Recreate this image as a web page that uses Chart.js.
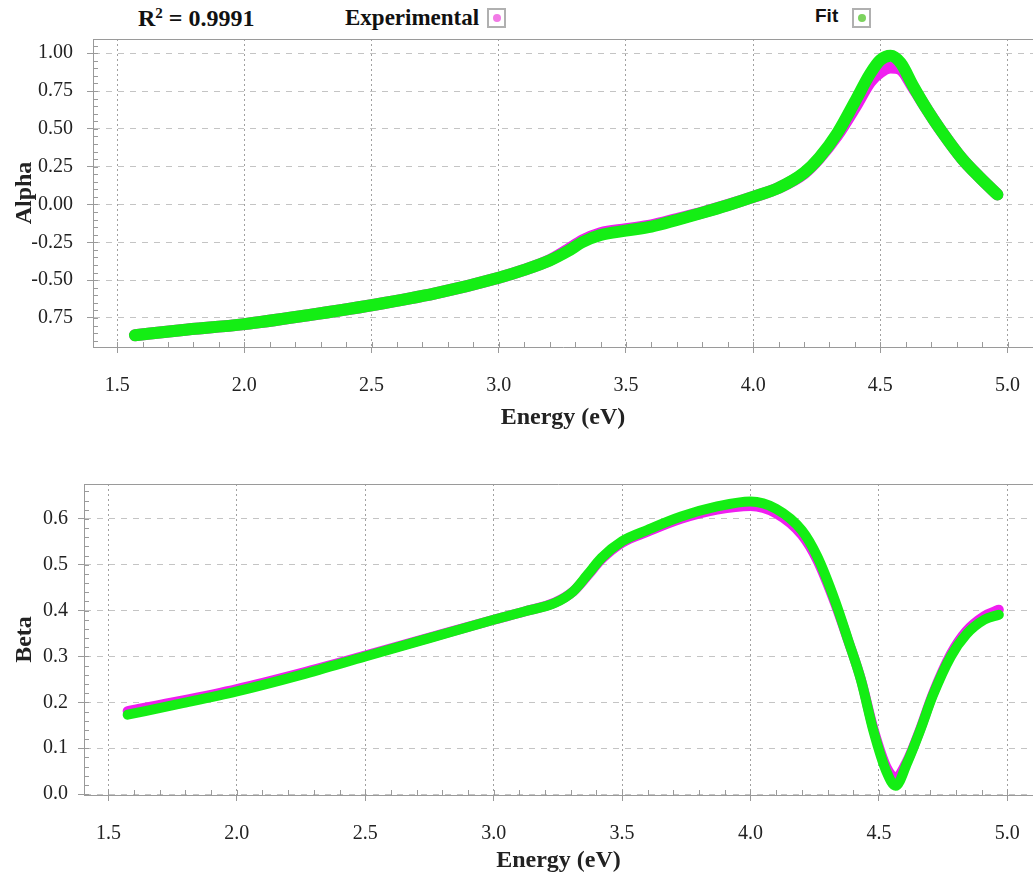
<!DOCTYPE html>
<html>
<head>
<meta charset="utf-8">
<title>Alpha / Beta fit</title>
<script src="https://cdn.jsdelivr.net/npm/chart.js@4.4.1/dist/chart.umd.min.js"></script>
<style>
  body { margin: 0; background: #fff; width: 1033px; height: 879px; overflow: hidden; position: relative; }
  canvas { position: absolute; left: 0; }
  #alphaChart { top: 0; }
  #betaChart { top: 440px; }
  .hdr { position: absolute; top: 5px; line-height: 26px; font: bold 23px 'Liberation Serif', serif; color: #111; white-space: nowrap; }
  .hdr sup { font-size: 15px; line-height: 0; vertical-align: 8px; }
  .r2 { font-size: 24px; }
  .fit { font-family: 'Liberation Sans', sans-serif; font-size: 19px; }
  .box { position: absolute; top: 8px; width: 19px; height: 20px; border: 2px solid #b0b0b0; box-sizing: border-box; background: #fff; }
  .box span { position: absolute; left: 4px; top: 4px; width: 8px; height: 8px; border-radius: 50%; }
</style>
</head>
<body>
<div class="hdr r2" style="left:138px">R<sup>2</sup> = 0.9991</div>
<div class="hdr" style="left:345px">Experimental</div>
<div class="box" style="left:487px"><span style="background:#f27ae6"></span></div>
<div class="hdr fit" style="left:815px">Fit</div>
<div class="box" style="left:852px"><span style="background:#7cd35e"></span></div>

<canvas id="alphaChart" width="1033" height="440"></canvas>
<canvas id="betaChart" width="1033" height="439"></canvas>

<script>
'use strict';

// values
const alphaEnergy = [1.57, 1.75, 2.0, 2.25, 2.5, 2.75, 3.0, 3.1, 3.2, 3.27, 3.33, 3.4, 3.5, 3.6, 3.7, 3.8, 3.9, 4.0, 4.1, 4.2, 4.26, 4.33, 4.4, 4.46, 4.5, 4.54, 4.58, 4.63, 4.68, 4.74, 4.82, 4.89, 4.96];
const alphaExperimental = [-0.864, -0.831, -0.791, -0.732, -0.666, -0.588, -0.484, -0.432, -0.368, -0.300, -0.237, -0.190, -0.163, -0.138, -0.096, -0.053, -0.004, 0.050, 0.110, 0.205, 0.305, 0.455, 0.640, 0.810, 0.875, 0.905, 0.893, 0.770, 0.637, 0.485, 0.305, 0.180, 0.066];
const alphaFit = [-0.864, -0.831, -0.791, -0.732, -0.666, -0.588, -0.484, -0.432, -0.370, -0.310, -0.248, -0.202, -0.173, -0.146, -0.102, -0.055, -0.005, 0.050, 0.110, 0.210, 0.310, 0.470, 0.680, 0.865, 0.955, 0.983, 0.935, 0.780, 0.637, 0.485, 0.305, 0.180, 0.066];

const betaEnergy = [1.575, 1.78, 2.0, 2.25, 2.5, 2.75, 3.0, 3.12, 3.24, 3.31, 3.365, 3.42, 3.5, 3.6, 3.73, 3.87, 4.0, 4.1, 4.2, 4.26, 4.33, 4.38, 4.43, 4.48, 4.53, 4.565, 4.61, 4.66, 4.71, 4.78, 4.84, 4.91, 4.967];
const betaExperimental = [0.181, 0.203, 0.229, 0.264, 0.302, 0.341, 0.380, 0.398, 0.418, 0.442, 0.476, 0.512, 0.548, 0.572, 0.600, 0.620, 0.628, 0.612, 0.565, 0.510, 0.415, 0.335, 0.250, 0.140, 0.058, 0.036, 0.072, 0.140, 0.218, 0.305, 0.355, 0.388, 0.402];
const betaFit = [0.173, 0.197, 0.224, 0.260, 0.300, 0.340, 0.380, 0.398, 0.417, 0.442, 0.478, 0.515, 0.551, 0.576, 0.605, 0.627, 0.638, 0.622, 0.575, 0.518, 0.420, 0.336, 0.249, 0.135, 0.048, 0.018, 0.068, 0.138, 0.215, 0.300, 0.348, 0.380, 0.391];

const energyTicks = [1.5, 2.0, 2.5, 3.0, 3.5, 4.0, 4.5, 5.0];
const alphaTickValues = [1, 0.75, 0.5, 0.25, 0, -0.25, -0.5, -0.75];
const alphaTickLabels = ['1.00', '0.75', '0.50', '0.25', '0.00', '-0.25', '-0.50', '0.75'];
const betaTickValues = [0.6, 0.5, 0.4, 0.3, 0.2, 0.1, 0.0];
const betaTickLabels = ['0.6', '0.5', '0.4', '0.3', '0.2', '0.1', '0.0'];

const magenta = '#f01ef0';
const green = '#14ee14';
const tickFont = { family: "'Liberation Serif', serif", size: 20 };
const titleFont = { family: "'Liberation Serif', serif", size: 24, weight: 'bold' };

function toPoints(xs, ys) {
  return xs.map((x, i) => ({ x: x, y: ys[i] }));
}

// top frame line plus small inside ticks
const frame = {
  id: 'frame',
  beforeDatasetsDraw(chart, args, opts) {
    const ctx = chart.ctx;
    const a = chart.chartArea;
    const xs = chart.scales.x;
    const ys = chart.scales.y;
    ctx.save();
    ctx.strokeStyle = '#9a9a9a';
    ctx.lineWidth = 1;
    ctx.beginPath();
    ctx.moveTo(a.left, a.top + 0.5);
    ctx.lineTo(a.right, a.top + 0.5);
    for (let k = Math.ceil(xs.min * 10); k <= xs.max * 10; k++) {
      const px = Math.round(xs.getPixelForValue(k / 10)) + 0.5;
      ctx.moveTo(px, a.bottom);
      ctx.lineTo(px, a.bottom - 5);
    }
    const n = 1 / opts.yStep;
    for (let k = Math.ceil(ys.min * n); k <= ys.max * n; k++) {
      const py = Math.round(ys.getPixelForValue(k / n)) + 0.5;
      ctx.moveTo(a.left, py);
      ctx.lineTo(a.left + 5, py);
    }
    ctx.stroke();
    ctx.restore();
  }
};

function makeChart(id, energy, exp, fit, s) {
  const config = {
    type: 'scatter',
    data: {
      datasets: [{
        label: 'Experimental',
        data: toPoints(energy, exp),
        showLine: true,
        borderColor: magenta,
        backgroundColor: magenta,
        borderWidth: s.band,
        borderCapStyle: 'round',
        pointRadius: 0,
        tension: 0.4,
        cubicInterpolationMode: 'monotone',
        order: 2
      },
      {
        label: 'Fit',
        data: toPoints(energy, fit),
        showLine: true,
        borderColor: green,
        backgroundColor: green,
        borderWidth: s.band,
        borderCapStyle: 'round',
        pointRadius: 0,
        tension: 0.4,
        cubicInterpolationMode: 'monotone',
        order: 1
      }]
    },
    options: {
      responsive: false,
      animation: false,
      layout: { padding: { top: s.top, right: 0, bottom: 0, left: 0 } },
      plugins: {
        legend: { display: false },
        tooltip: { enabled: false },
        frame: { yStep: s.yStep }
      },
      scales: {
        x: {
          type: 'linear',
          min: 1.405,
          max: 5.10,
          afterBuildTicks: scale => { scale.ticks = energyTicks.map(v => ({ value: v })); },
          afterFit: scale => {
            scale.height = s.xHeight;
            scale.paddingLeft = 0;
            scale.paddingRight = 0;
          },
          ticks: {
            font: tickFont,
            color: '#222',
            padding: 21,
            maxRotation: 0,
            autoSkip: false,
            callback: v => v.toFixed(1)
          },
          grid: { color: '#a0a0a0', tickLength: 6, tickColor: '#9a9a9a' },
          border: { display: true, color: '#9a9a9a', dash: [2, 3] },
          title: {
            display: true,
            text: 'Energy (eV)',
            font: titleFont,
            color: '#222',
            padding: { top: 0, bottom: s.titlePad }
          }
        },
        y: {
          min: s.yMin,
          max: s.yMax,
          afterBuildTicks: scale => { scale.ticks = s.yValues.map(v => ({ value: v })); },
          afterFit: scale => { scale.width = s.yWidth; },
          ticks: {
            font: tickFont,
            color: '#222',
            padding: s.yPad,
            autoSkip: false,
            callback: v => s.yLabels[s.yValues.indexOf(v)]
          },
          grid: { color: '#c4c4c4', tickLength: 6, tickColor: '#9a9a9a' },
          border: { display: true, color: '#9a9a9a', dash: [6, 6] },
          title: {
            display: true,
            text: s.yTitle,
            font: titleFont,
            color: '#222',
            padding: { top: 10, bottom: 0 }
          }
        }
      }
    },
    plugins: [frame]
  };
  return new Chart(document.getElementById(id), config);
}

makeChart('alphaChart', alphaEnergy, alphaExperimental, alphaFit, {
  band: 12, top: 39, xHeight: 93, titlePad: 8, yMin: -0.942, yMax: 1.094,
  yValues: alphaTickValues, yLabels: alphaTickLabels, yWidth: 93, yPad: 14,
  yTitle: 'Alpha', yStep: 0.05
});

makeChart('betaChart', betaEnergy, betaExperimental, betaFit, {
  band: 10, top: 44, xHeight: 84, titlePad: 4, yMin: -0.002, yMax: 0.676,
  yValues: betaTickValues, yLabels: betaTickLabels, yWidth: 84, yPad: 10,
  yTitle: 'Beta', yStep: 0.02
});
</script>
</body>
</html>
